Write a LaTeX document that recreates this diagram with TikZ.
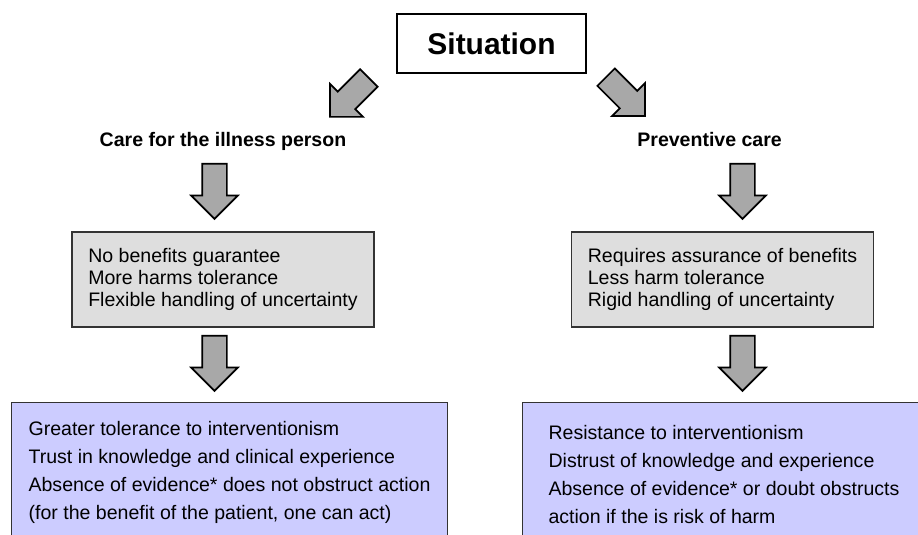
\documentclass[tikz,border=0pt]{standalone}
\usepackage{fontspec}
\setmainfont{Liberation Sans}
\usetikzlibrary{shapes.arrows}
\definecolor{boxgray}{RGB}{222, 222, 222}
\definecolor{boxlilac}{RGB}{204, 204, 255}
\definecolor{arrowgray}{RGB}{168, 168, 168}
\tikzset{%
    blockarrow/.style={%
        single arrow, draw=black, fill=arrowgray, line width=1.2pt,
        minimum height=1.375cm, single arrow head extend=0.275cm,
        inner xsep=0pt, inner ysep=0.2875cm, anchor=tail
    },
    greybox/.style={%
        draw=black!80, fill=boxgray, line width=0.8pt, align=left,
        minimum width=7.55cm, minimum height=2.375cm,
        font=\fontsize{13.9}{15.6}\selectfont
    },
    lilacbox/.style={%
        draw=black!80, fill=boxlilac, line width=0.8pt, align=flush left,
        anchor=north west, font=\fontsize{13.9}{19.9}\selectfont
    },
    heading/.style={anchor=base, font=\bfseries\fontsize{13.9}{16}\selectfont}
}

\begin{document}
\begin{tikzpicture}

    \useasboundingbox (0, 0) rectangle (22.95, 13.375);
    \clip (0, 0) rectangle (22.95, 13.375);

    \node[draw, line width=1.4pt, minimum width=4.725cm, minimum height=1.475cm,
        font=\bfseries\fontsize{21.3}{25}\selectfont] (situation)
        at (12.2875, 12.29) {Situation};

    \node[blockarrow, rotate=-135] (arrsitl) at (9.2375, 11.44) {};
    \node[blockarrow, rotate=-45] (arrsitr) at (15.1375, 11.46) {};

    \node[heading] (illness) at (5.575, 9.71) {Care for the illness person};
    \node[heading] (preventive) at (17.74, 9.71) {Preventive care};

    \node[blockarrow, rotate=-90] (arrill1) at (5.3625, 9.3) {};
    \node[blockarrow, rotate=-90] (arrprev1) at (18.5625, 9.3) {};

    \node[greybox] (illnessbox) at (5.575, 6.3875) {%
        No benefits guarantee\\
        More harms tolerance\\
        Flexible handling of uncertainty
    };
    \node[greybox] (prevbox) at (18.0625, 6.3875) {%
        Requires assurance of benefits\\
        Less harm tolerance\\
        Rigid handling of uncertainty
    };

    \node[blockarrow, rotate=-90] (arrill2) at (5.3625, 5.0) {};
    \node[blockarrow, rotate=-90] (arrprev2) at (18.5625, 5.0) {};

    \node[lilacbox, minimum width=10.9cm, inner ysep=0.47cm]
        (illnessout) at (0.275, 3.325) {%
        Greater tolerance to interventionism\\
        Trust in knowledge and clinical experience\\
        Absence of evidence* does not obstruct action\\
        (for the benefit of the patient, one can act)
    };
    \node[lilacbox, text width=9.4cm, inner xsep=0.65cm, inner ysep=0.57cm]
        (prevout) at (13.05, 3.325) {%
        Resistance to interventionism\\
        Distrust of knowledge and experience\\
        Absence of evidence* or doubt obstructs\\
        action if the is risk of harm
    };

\end{tikzpicture}
\end{document}
